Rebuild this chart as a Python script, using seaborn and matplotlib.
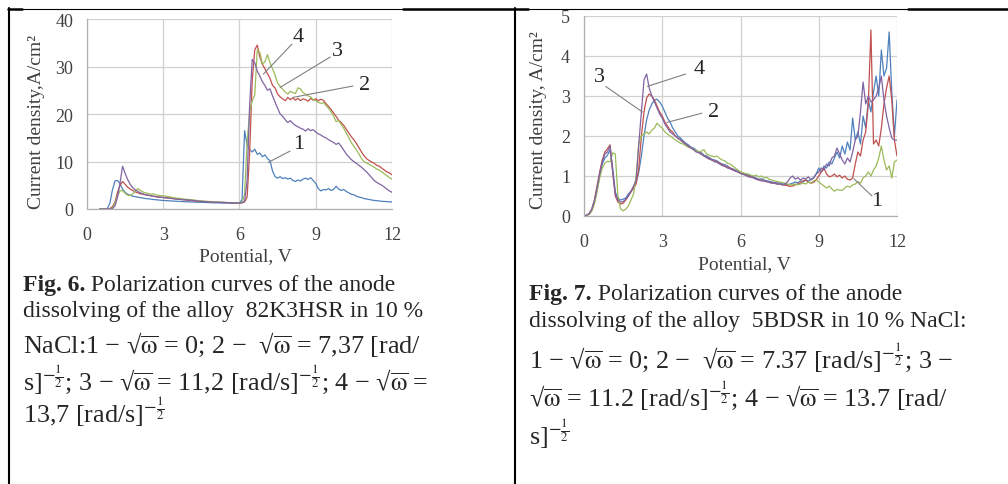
import numpy as np
import pandas as pd
import matplotlib
matplotlib.use("Agg")
import matplotlib.pyplot as plt
from matplotlib.lines import Line2D
import seaborn as sns

# ---- data: Fig. 6 (alloy 82K3HSR), potential 0.5..12 V step 0.1
pot6 = np.round(np.arange(5, 121) / 10, 1)
f6_1 = [0, 0, 0, 0.1, 1.2, 4.0, 5.9, 6.0, 5.3, 4.2,
        3.5, 3.1, 2.9, 2.7, 2.6, 2.5, 2.4, 2.3, 2.2, 2.15,
        2.1, 2.0, 1.95, 1.9, 1.85, 1.8, 1.77, 1.74, 1.7, 1.67,
        1.64, 1.6, 1.58, 1.55, 1.52, 1.5, 1.48, 1.46, 1.44, 1.42,
        1.4, 1.38, 1.36, 1.34, 1.32, 1.3, 1.29, 1.28, 1.26, 1.25,
        1.24, 1.23, 1.22, 1.21, 1.2, 1.2, 2.0, 16.5, 13.5, 12.5,
        12.0, 12.6, 11.5, 11.8, 11.0, 11.4, 10.6, 10.2, 8.0, 6.8,
        6.5, 6.8, 6.4, 6.6, 6.3, 6.5, 6.0, 5.8, 6.1, 5.9,
        6.3, 6.5, 6.2, 6.6, 6.0, 5.4, 4.3, 3.8, 4.1, 4.0,
        4.3, 3.9, 4.1, 4.8, 4.2, 3.9, 4.1, 3.7, 3.4, 3.1,
        3.0, 2.7, 2.5, 2.4, 2.2, 2.1, 2.0, 1.9, 1.8, 1.75,
        1.7, 1.6, 1.6, 1.55, 1.5, 1.5]
f6_2 = [0, 0, 0, 0, 0.1, 0.5, 1.5, 3.5, 5.0, 5.8,
        5.2, 4.6, 4.2, 3.9, 3.6, 3.4, 3.2, 3.1, 3.0, 2.9,
        2.8, 2.7, 2.6, 2.55, 2.5, 2.45, 2.4, 2.35, 2.3, 2.2,
        2.1, 2.05, 2.0, 1.95, 1.88, 1.8, 1.76, 1.72, 1.68, 1.64,
        1.6, 1.58, 1.55, 1.52, 1.48, 1.45, 1.43, 1.41, 1.39, 1.37,
        1.35, 1.33, 1.31, 1.29, 1.27, 1.25, 1.3, 1.5, 2.5, 12.0,
        27.0, 33.5, 34.5, 32.0, 30.5, 29.5, 28.5, 27.5, 26.0, 25.5,
        24.2, 23.6, 23.2, 22.8, 23.5, 23.0, 23.4, 22.9, 23.3, 22.8,
        23.2, 23.0, 22.7, 23.3, 22.9, 23.2, 22.8, 23.1, 22.9, 22.2,
        21.6, 21.0, 20.2, 19.5, 18.7, 18.2, 17.6, 16.8, 16.0, 15.2,
        14.6, 13.8, 12.9, 12.0, 11.2, 10.6, 10.2, 9.9, 9.6, 9.2,
        9.0, 8.6, 8.2, 7.8, 7.6, 7.2]
f6_3 = [0, 0, 0, 0, 0, 0.2, 1.2, 2.8, 3.8, 3.9,
        3.3, 2.9, 2.8, 3.2, 3.8, 4.3, 3.9, 3.6, 3.4, 3.3,
        3.1, 3.2, 3.0, 2.9, 2.8, 2.8, 2.7, 2.6, 2.5, 2.4,
        2.3, 2.25, 2.2, 2.1, 2.05, 2.0, 1.94, 1.88, 1.82, 1.76,
        1.7, 1.66, 1.62, 1.58, 1.54, 1.5, 1.47, 1.44, 1.41, 1.38,
        1.35, 1.34, 1.33, 1.32, 1.31, 1.3, 1.4, 3.0, 14.0, 20.5,
        22.8, 24.0, 33.5, 33.0, 30.5, 31.0, 32.5, 30.8, 29.5, 28.2,
        26.5, 25.8, 25.2, 24.6, 24.2, 24.8, 24.5, 24.3, 25.5, 25.3,
        24.5, 24.2, 23.8, 23.6, 23.0, 22.8, 22.5, 22.2, 22.4, 21.8,
        21.2, 20.5, 19.6, 18.4, 18.6, 17.8, 17.0, 16.0, 15.0, 14.0,
        13.2, 12.4, 11.6, 10.6, 10.0, 9.7, 9.4, 9.1, 8.8, 8.4,
        8.2, 7.8, 7.4, 7.0, 6.6, 6.3]
f6_4 = [0, 0, 0, 0, 0, 0.1, 0.6, 2.5, 5.5, 9.0,
        7.5, 6.2, 5.2, 4.5, 4.0, 3.7, 3.4, 3.2, 3.0, 2.9,
        2.8, 2.7, 2.6, 2.5, 2.45, 2.4, 2.34, 2.28, 2.22, 2.16,
        2.1, 2.05, 2.0, 1.95, 1.92, 1.9, 1.84, 1.78, 1.72, 1.66,
        1.6, 1.57, 1.54, 1.51, 1.48, 1.45, 1.43, 1.41, 1.39, 1.37,
        1.35, 1.33, 1.31, 1.29, 1.27, 1.25, 1.3, 1.6, 6.0, 22.0,
        31.5, 30.8, 29.0, 28.0, 26.8, 26.0, 25.0, 25.3, 23.8, 22.5,
        21.2, 20.0, 19.5, 18.8, 18.2, 18.6, 18.0, 17.6, 17.3, 17.0,
        16.8, 16.4, 16.9, 16.5, 16.7, 16.2, 15.8, 15.6, 15.2, 15.0,
        14.6, 14.3, 14.0, 13.6, 13.9, 13.2, 12.4, 11.6, 11.0, 10.4,
        10.0, 9.6, 9.2, 8.8, 8.3, 7.8, 7.2, 6.6, 6.0, 5.6,
        5.3, 5.0, 4.6, 4.2, 3.8, 3.5]

# ---- data: Fig. 7 (alloy 5BDSR), potential 0..12 V step 0.1
pot7 = np.round(np.arange(0, 121) / 10, 1)
f7_blue = [0, 0.02, 0.05, 0.15, 0.35, 0.65, 1.0, 1.3, 1.45, 1.52,
           1.65, 1.2, 0.6, 0.45, 0.4, 0.42, 0.45, 0.55, 0.62, 0.7,
           0.85, 1.1, 1.5, 2.0, 2.4, 2.65, 2.8, 2.9, 2.92, 2.85,
           2.75, 2.6, 2.45, 2.35, 2.2, 2.1, 2.0, 1.95, 1.88, 1.82,
           1.78, 1.72, 1.7, 1.65, 1.6, 1.58, 1.52, 1.5, 1.46, 1.42,
           1.4, 1.38, 1.33, 1.3, 1.28, 1.25, 1.2, 1.18, 1.15, 1.12,
           1.1, 1.06, 1.05, 1.02, 1.0, 0.98, 0.95, 0.92, 0.93, 0.9,
           0.88, 0.87, 0.85, 0.84, 0.83, 0.82, 0.8, 0.8, 0.78, 0.8,
           0.82, 0.85, 0.83, 0.88, 0.85, 0.9, 0.87, 0.92, 0.95, 1.05,
           1.2, 1.1, 1.25, 1.2, 1.35, 1.3, 1.45, 1.6, 1.45, 1.75,
           1.55, 1.85, 1.65, 2.45, 1.9, 2.1, 1.8, 2.5, 2.2, 2.9,
           2.6, 3.1, 3.5, 3.0, 4.15, 3.5, 3.7, 4.6, 3.1, 2.0,
           2.9]
f7_red = [0, 0.02, 0.06, 0.18, 0.4, 0.75, 1.1, 1.4, 1.6, 1.68,
          1.78, 1.1, 0.5, 0.35, 0.3, 0.32, 0.4, 0.5, 0.6, 0.7,
          0.8, 1.2, 2.0, 2.6, 2.95, 3.05, 3.0, 2.9, 2.75, 2.6,
          2.5, 2.35, 2.25, 2.15, 2.1, 2.0, 1.95, 1.9, 1.85, 1.8,
          1.75, 1.7, 1.66, 1.62, 1.6, 1.55, 1.5, 1.47, 1.44, 1.4,
          1.38, 1.35, 1.32, 1.28, 1.25, 1.22, 1.2, 1.16, 1.13, 1.1,
          1.08, 1.05, 1.02, 1.0, 0.98, 0.96, 0.93, 0.9, 0.9, 0.87,
          0.86, 0.84, 0.83, 0.82, 0.8, 0.8, 0.78, 0.77, 0.76, 0.74,
          0.75, 0.78, 0.8, 0.83, 0.88, 0.9, 0.85, 0.82, 0.84, 0.9,
          1.0, 1.1, 1.2, 1.05, 0.98, 1.0, 1.05, 0.98, 1.02, 0.95,
          1.0, 0.92, 0.9, 0.95, 1.3, 1.6, 1.5, 1.9, 2.1, 2.8,
          4.65, 1.8, 1.9, 1.75, 2.2, 2.8, 3.2, 3.5, 2.9, 1.9,
          1.5]
f7_green = [0, 0.01, 0.04, 0.12, 0.3, 0.6, 0.95, 1.2, 1.32, 1.37,
            1.35, 1.58, 1.55, 0.5, 0.18, 0.13, 0.17, 0.25, 0.4, 0.55,
            1.0, 1.8, 2.0, 2.05, 2.1, 2.05, 2.15, 2.2, 2.32, 2.25,
            2.2, 2.1, 2.05, 2.0, 1.95, 1.9, 1.86, 1.82, 1.8, 1.76,
            1.72, 1.7, 1.66, 1.64, 1.6, 1.62, 1.66, 1.55, 1.52, 1.5,
            1.48, 1.5, 1.44, 1.4, 1.38, 1.32, 1.3, 1.25, 1.2, 1.15,
            1.1, 1.08, 1.06, 1.05, 1.02, 1.0, 1.02, 0.98, 1.0, 0.95,
            0.97, 0.92, 0.9, 0.88, 0.86, 0.85, 0.84, 0.82, 0.8, 0.78,
            0.78, 0.8, 0.78, 0.8, 0.82, 0.8, 0.85, 0.82, 0.88, 0.9,
            0.85, 0.8, 0.75, 0.7, 0.75, 0.68, 0.62, 0.66, 0.65, 0.64,
            0.7, 0.75, 0.72, 0.78, 0.8, 0.86, 0.82, 0.95, 1.0, 1.1,
            1.0, 1.15, 1.25, 1.45, 1.75, 1.4, 1.15, 1.25, 0.95, 1.35,
            1.4]
f7_purple = [0, 0.02, 0.06, 0.17, 0.38, 0.7, 1.05, 1.35, 1.55, 1.6,
             1.75, 1.1, 0.55, 0.4, 0.35, 0.36, 0.42, 0.5, 0.62, 0.75,
             0.9, 1.8, 2.6, 3.4, 3.55, 3.2, 3.0, 2.85, 2.7, 2.55,
             2.45, 2.3, 2.2, 2.1, 2.05, 2.0, 1.94, 1.9, 1.84, 1.8,
             1.74, 1.7, 1.66, 1.6, 1.58, 1.54, 1.5, 1.46, 1.42, 1.4,
             1.36, 1.34, 1.3, 1.26, 1.24, 1.2, 1.18, 1.15, 1.12, 1.1,
             1.06, 1.04, 1.02, 0.98, 0.97, 0.95, 0.92, 0.9, 0.88, 0.88,
             0.86, 0.84, 0.82, 0.82, 0.8, 0.8, 0.78, 0.8, 0.85, 0.95,
             1.0, 0.92, 0.96, 0.9, 0.95, 0.92, 0.98, 0.9, 0.95, 1.05,
             1.1, 1.2, 1.15, 1.3, 1.25, 1.45, 1.5, 1.7, 1.55, 1.4,
             1.3, 1.45, 1.35, 1.6, 1.9, 2.0, 2.6, 3.35, 2.8, 3.0,
             2.85, 2.9, 3.0, 3.2, 3.5, 2.9, 2.5, 2.2, 1.95, 1.9,
             1.9]

colors = ["#4F81BD", "#C0504D", "#9BBB59", "#8064A2"]
xticks = [0, 3, 6, 9, 12]

# caption lines: (bold prefix, rest); "√$\overline{ω}$" gives a compact radical
RW = r"√$\overline{\mathrm{ω}}$"
HALF = r"$^{-\frac{1}{2}}$"
caption6 = [("Fig. 6.", " Polarization curves of the anode"),
            ("", "dissolving of the alloy  82K3HSR in 10 %"),
            ("", f"NaCl:1 − {RW} = 0; 2 −  {RW} = 7,37 [rad/"),
            ("", f"s]{HALF}; 3 − {RW} = 11,2 [rad/s]{HALF}; 4 − {RW} ="),
            ("", f"13,7 [rad/s]{HALF}")]
caption7 = [("Fig. 7.", " Polarization curves of the anode"),
            ("", "dissolving of the alloy  5BDSR in 10 % NaCl:"),
            ("", f"1 − {RW} = 0; 2 −  {RW} = 7.37 [rad/s]{HALF}; 3 −"),
            ("", f"{RW} = 11.2 [rad/s]{HALF}; 4 − {RW} = 13.7 [rad/"),
            ("", f"s]{HALF}")]

# curve labels: (text, text x, text y, leader start x, y, leader end x, y)
notes6 = [("4", 8.31, 36.4, 8.06, 34.7, 6.94, 28.4),
          ("3", 9.84, 33.3, 9.57, 32.0, 7.60, 25.6),
          ("2", 10.94, 26.3, 10.47, 25.9, 8.11, 23.5),
          ("1", 8.31, 13.7, 7.99, 12.2, 7.13, 9.8)]
notes7 = [("3", 0.58, 3.48, 0.83, 3.24, 2.24, 2.60),
          ("4", 4.41, 3.68, 3.90, 3.55, 2.43, 3.24),
          ("2", 4.98, 2.60, 4.52, 2.57, 3.18, 2.34),
          ("1", 11.23, 0.38, 11.04, 0.50, 10.35, 0.93)]

sns.set_style("white")
plt.rcParams["font.family"] = ["Liberation Serif", "DejaVu Serif"]
plt.rcParams["mathtext.fontset"] = "stix"

W, H = 1008, 485
fig = plt.figure(figsize=(W / 100, H / 100), dpi=100)
renderer = fig.canvas.get_renderer()


def px(x, y):
    return x / W, 1 - y / H


def panel(rect, x, curves, ymax, yticks, ylabel, xlab_pos, ylab_pos, notes):
    ax = fig.add_axes(rect)
    frames = []
    for i, ys in enumerate(curves):
        frames.append(pd.DataFrame({"V": x, "j": ys, "curve": str(i + 1)}))
    df = pd.concat(frames)
    sns.lineplot(data=df, x="V", y="j", hue="curve", palette=colors,
                 estimator=None, sort=False, legend=False, lw=0.9, ax=ax)
    ax.set_xlim(0, 12)
    ax.set_ylim(0, ymax)
    ax.set_xticks(xticks)
    ax.set_yticks(yticks)
    ax.grid(True, color="#d0d0d0", lw=0.9)
    for s in ["top", "right"]:
        ax.spines[s].set_visible(False)
    for s in ["left", "bottom"]:
        ax.spines[s].set_color("#b0b0b0")
        ax.spines[s].set_linewidth(0.9)
    ax.tick_params(axis="both", length=4, color="#b0b0b0", labelsize=13,
                   labelcolor="#404040", direction="out")
    ax.tick_params(axis="x", pad=8)
    ax.tick_params(axis="y", pad=6)
    ax.set_xlabel("Potential, V", fontsize=14, color="#404040")
    ax.set_ylabel(ylabel, fontsize=14, color="#404040")
    ax.xaxis.set_label_coords(*xlab_pos)
    ax.yaxis.set_label_coords(*ylab_pos)
    ax.xaxis.label.set_va("center")
    ax.yaxis.label.set_va("center")
    for lab, tx, ty, sx, sy, ex, ey in notes:
        ax.plot([sx, ex], [sy, ey], color="#808080", lw=0.8)
        ax.text(tx, ty, lab, fontsize=16, color="#262626", ha="center", va="center")
    return ax


panel([87 / W, 1 - 210 / H, 305 / W, 190 / H], pot6, [f6_1, f6_2, f6_3, f6_4],
      40, [0, 10, 20, 30, 40], "Current density,A/cm²",
      (0.521, -0.247), (-0.164, 0.463), notes6)
panel([584 / W, 1 - 217 / H, 313 / W, 200 / H], pot7, [f7_blue, f7_red, f7_green, f7_purple],
      5, [0, 1, 2, 3, 4, 5], "Current density, A/cm²",
      (0.511, -0.24), (-0.144, 0.485), notes7)


def caption(lines, x0, bases):
    for (bold, rest), base in zip(lines, bases):
        x = x0
        size = 17 if "$" not in rest else 18.8
        if bold:
            t = fig.text(*px(x, base), bold, fontsize=17, weight="bold", va="baseline")
            x = x + t.get_window_extent(renderer).width
        fig.text(*px(x, base), rest, fontsize=size, va="baseline")


caption(caption6, 23, [291, 317, 353, 390, 423])
caption(caption7, 529, [300, 327, 368, 406, 445])


# table borders
def rule(x0, y0, x1, y1, lw):
    fig.add_artist(Line2D([x0 / W, x1 / W], [1 - y0 / H, 1 - y1 / H],
                          transform=fig.transFigure, color="black", lw=lw))


rule(8.5, 9, 8.5, 485, 1.5)
rule(515, 9, 515, 485, 1.5)
for a, b in [(8, 22), (403, 528), (908, 1008)]:
    rule(a, 10, b, 10, 1.8)
for a, b in [(22, 403), (528, 908)]:
    rule(a, 10, b, 10, 0.8)

fig.savefig("out.png", dpi=100)
